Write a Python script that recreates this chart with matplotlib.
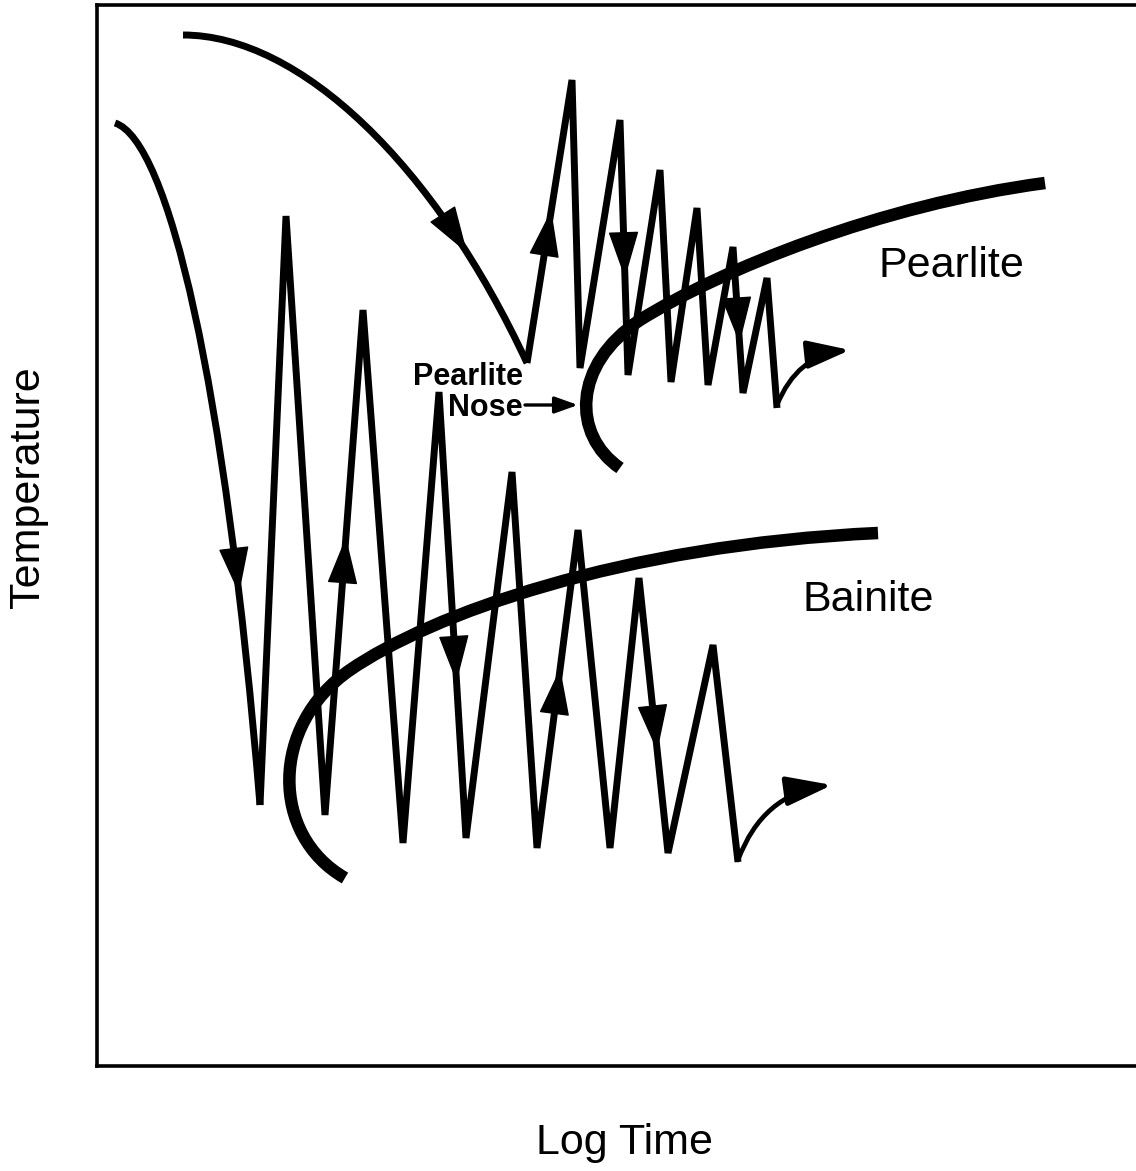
import numpy as np
import matplotlib
matplotlib.use("Agg")
import matplotlib.pyplot as plt
from matplotlib.path import Path
from matplotlib.patches import PathPatch, FancyArrowPatch

plt.rcParams['font.family'] = ['Liberation Sans', 'DejaVu Sans']

# -----------------------------
# Schematic data (x = log time, y = temperature, measured top-down)
# -----------------------------
# first cooling curve (bezier control points), ends in the bainite zigzag
cool_low_x = [115, 168, 225, 260]
cool_low_y = [123, 140, 380, 805]
zig_low_x = [260, 286, 325, 363, 403, 439, 466, 512, 537, 578, 610, 639, 668, 713, 738]
zig_low_y = [805, 216, 815, 310, 843, 392, 838, 472, 848, 530, 848, 578, 853, 645, 862]

# second cooling curve, ends in the pearlite zigzag
cool_up_x = [183, 300, 435, 527]
cool_up_y = [35, 35, 165, 363]
zig_up_x = [527, 572, 580, 620, 628, 660, 671, 697, 708, 733, 743, 767, 777]
zig_up_y = [363, 80, 368, 120, 375, 170, 382, 208, 385, 247, 393, 278, 408]

# transformation start curves (two cubic beziers each)
pearlite_x = [620, 572, 572, 640, 720, 880, 1045]
pearlite_y = [468, 435, 365, 320, 270, 205, 183]
bainite_x = [345, 270, 270, 350, 430, 620, 878]
bainite_y = [878, 835, 725, 670, 615, 545, 533]

# arrow heads: (segment index, fraction along segment) on the zigzags
low_arrows = [(2, 0.55), (5, 0.65), (8, 0.565), (11, 0.63)]
up_arrows = [(0, 0.54), (3, 0.62), (9, 0.66)]
# arrow heads on the cooling curves (bezier parameter)
low_curve_t = 0.82
up_curve_t = 0.80

# curved "continue" arrows at the end of each zigzag
low_end = [(738, 860), (832, 785)]
up_end = [(777, 405), (850, 350)]

# -----------------------------
# Figure
# -----------------------------
W, H = 1136, 1171
fig = plt.figure(figsize=(W / 100, H / 100), dpi=100)
left_px, right_px, top_px, bottom_px = 97, 1150, 5, 1066
ax = fig.add_axes([left_px / W, 1 - bottom_px / H,
                   (right_px - left_px) / W, (bottom_px - top_px) / H])
ax.set_xlim(left_px, right_px)
ax.set_ylim(bottom_px, top_px)
ax.set_xticks([])
ax.set_yticks([])
for s in ax.spines.values():
    s.set_linewidth(2.6)
ax.spines['right'].set_visible(False)

THIN = 5.0
THICK = 9.0


def bezier_path(xs, ys):
    codes = [Path.MOVETO] + [Path.CURVE4] * (len(xs) - 1)
    return Path(np.column_stack([xs, ys]), codes)


def bezier_at(xs, ys, t):
    b = np.array([(1 - t) ** 3, 3 * (1 - t) ** 2 * t, 3 * (1 - t) * t ** 2, t ** 3])
    db = np.array([-3 * (1 - t) ** 2, 3 * (1 - t) ** 2 - 6 * (1 - t) * t,
                   6 * (1 - t) * t - 3 * t ** 2, 3 * t ** 2])
    return (b @ np.array(xs), b @ np.array(ys)), (db @ np.array(xs), db @ np.array(ys))


def head(tip, direction, hl=31, hw=10):
    d = np.array(direction, float)
    d /= np.hypot(*d)
    tail = np.array(tip) - d * 30
    ax.add_patch(FancyArrowPatch(tail, tip,
                                 arrowstyle=f"-|>,head_length={hl},head_width={hw}",
                                 mutation_scale=1, color='k', lw=1,
                                 shrinkA=0, shrinkB=0, zorder=4))


# cooling curves
for cx, cy, t in [(cool_low_x, cool_low_y, low_curve_t), (cool_up_x, cool_up_y, up_curve_t)]:
    ax.add_patch(PathPatch(bezier_path(cx, cy), fill=False, lw=THIN, capstyle='butt'))
    p, d = bezier_at(cx, cy, t)
    head(p, d)

# zigzags
for zx, zy, arr in [(zig_low_x, zig_low_y, low_arrows), (zig_up_x, zig_up_y, up_arrows)]:
    ax.plot(zx, zy, color='k', lw=THIN, solid_joinstyle='bevel', solid_capstyle='butt')
    for i, f in arr:
        x0, y0, x1, y1 = zx[i], zy[i], zx[i + 1], zy[i + 1]
        head((x0 + f * (x1 - x0), y0 + f * (y1 - y0)), (x1 - x0, y1 - y0))

# C curves
for cx, cy in [(pearlite_x, pearlite_y), (bainite_x, bainite_y)]:
    ax.add_patch(PathPatch(bezier_path(cx, cy), fill=False, lw=THICK, capstyle='butt', zorder=3))

# curved end arrows
for (a, b), hl, hw in [(low_end, 28, 9), (up_end, 26, 8.5)]:
    ax.add_patch(FancyArrowPatch(a, b, connectionstyle="arc3,rad=-0.3",
                                 arrowstyle=f"-|>,head_length={hl},head_width={hw}",
                                 mutation_scale=1, color='k', lw=3.4,
                                 shrinkA=0, shrinkB=0))

# labels
ax.text(878, 277, "Pearlite", fontsize=31, ha='left', va='baseline')
ax.text(803, 611, "Bainite", fontsize=31, ha='left', va='baseline')
nose_font = dict(family=['Liberation Sans Narrow', 'Liberation Sans'], weight='bold', fontsize=22)
ax.text(523, 385, "Pearlite", ha='right', va='baseline', **nose_font)
ax.text(523, 416, "Nose", ha='right', va='baseline', **nose_font)
ax.add_patch(FancyArrowPatch((525, 405), (578, 405),
                             arrowstyle="-|>,head_length=14,head_width=5",
                             mutation_scale=1, color='k', lw=2.4, shrinkA=0, shrinkB=0))

fig.text(28 / W, 1 - 487 / H, "Temperature", fontsize=31, rotation=90, ha='center', va='center')
fig.text(625 / W, 1 - 1143 / H, "Log Time", fontsize=31, ha='center', va='center')

fig.savefig("out.png", dpi=100)
